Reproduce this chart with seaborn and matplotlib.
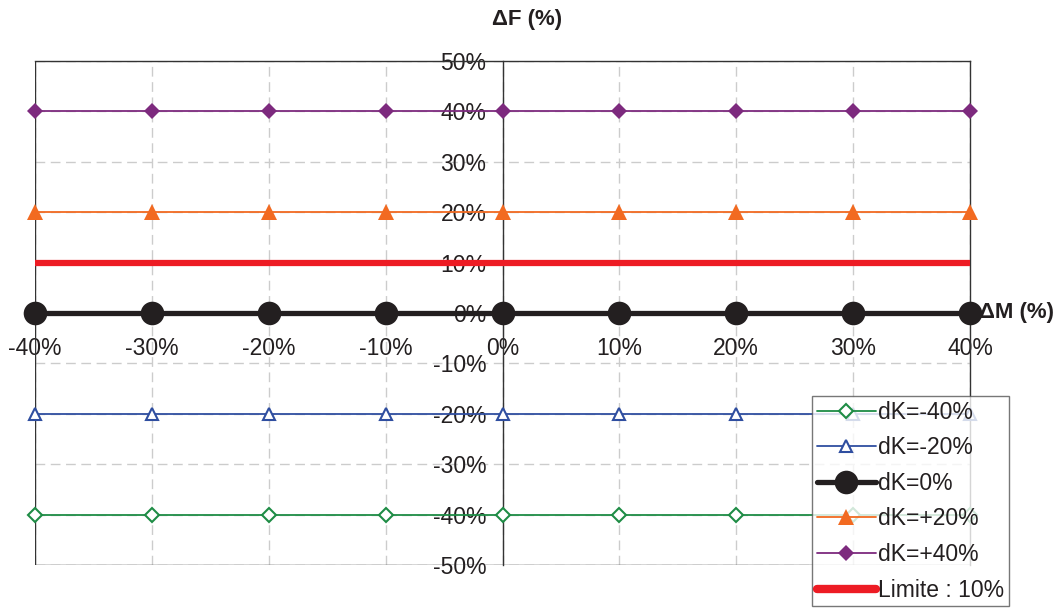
import matplotlib
matplotlib.use("Agg")
import matplotlib.pyplot as plt
import pandas as pd
import seaborn as sns
from matplotlib.lines import Line2D

# data (values in %)
dm = [-40, -30, -20, -10, 0, 10, 20, 30, 40]
df_m40 = [-40, -40, -40, -40, -40, -40, -40, -40, -40]
df_m20 = [-20, -20, -20, -20, -20, -20, -20, -20, -20]
df_0 = [0, 0, 0, 0, 0, 0, 0, 0, 0]
df_p20 = [20, 20, 20, 20, 20, 20, 20, 20, 20]
df_p40 = [40, 40, 40, 40, 40, 40, 40, 40, 40]
limit_x = [-40, 40]
limit_y = [10, 10]
series_labels = ["dK=-40%", "dK=-20%", "dK=0%", "dK=+20%", "dK=+40%"]
limit_label = "Limite : 10%"
x_ticks = [-40, -30, -20, -10, 0, 10, 20, 30, 40]
y_ticks = [-50, -40, -30, -20, -10, 0, 10, 20, 30, 40, 50]

sns.set_theme(style="white")
plt.rcParams["font.family"] = ["Liberation Sans", "DejaVu Sans"]

fig = plt.figure(figsize=(10.6, 6.1), dpi=100)
ax = fig.add_axes([35 / 1060, 45 / 610, 935 / 1060, 504 / 610])

styles = [
    dict(color="#1e8c45", marker="D", ms=7, mfc="white", mew=1.5, lw=1.3),
    dict(color="#2f4ea0", marker="^", ms=9, mfc="white", mew=1.5, lw=1.3),
    dict(color="#231f20", marker="o", ms=17, mfc="#231f20", mew=0, lw=3.8),
    dict(color="#f26a21", marker="^", ms=11, mfc="#f26a21", mew=0, lw=1.3),
    dict(color="#7d2a7e", marker="D", ms=8, mfc="#7d2a7e", mew=0, lw=1.3),
]
all_series = [df_m40, df_m20, df_0, df_p20, df_p40]

# grid
for v in x_ticks:
    ax.axvline(v, color="#cccccc", lw=1, ls=(0, (7, 4)), zorder=0)
for v in y_ticks:
    ax.axhline(v, color="#cccccc", lw=1, ls=(0, (7, 4)), zorder=0)

# limit line
sns.lineplot(x=limit_x, y=limit_y, ax=ax, color="#ed1c24", lw=4.5, zorder=3)

handles = []
order = [0, 1, 3, 4, 2]
for i in order:
    st = styles[i]
    d = pd.DataFrame({"dm": dm, "df": all_series[i]})
    sns.lineplot(data=d, x="dm", y="df", ax=ax, color=st["color"], lw=st["lw"],
                 marker=st["marker"], markersize=st["ms"], markerfacecolor=st["mfc"],
                 markeredgecolor=st["color"], markeredgewidth=st["mew"],
                 zorder=5 if i == 2 else 4, clip_on=False)

for i in range(5):
    st = styles[i]
    handles.append(Line2D([], [], color=st["color"], lw=st["lw"], marker=st["marker"],
                          markersize=st["ms"], markerfacecolor=st["mfc"],
                          markeredgecolor=st["color"], markeredgewidth=st["mew"]))
handles.append(Line2D([], [], color="#ed1c24", lw=6, solid_capstyle="round"))

ax.set_xlim(-40, 40)
ax.set_ylim(-50, 50)
ax.set_xlabel("")
ax.set_ylabel("")

# axes through zero
ax.spines["left"].set_position(("data", 0))
ax.spines["bottom"].set_position(("data", 0))
for s in ax.spines.values():
    s.set_color("#333333")
    s.set_linewidth(1)
ax.axvline(-40, color="#333333", lw=1, zorder=1)
ax.axhline(-50, color="#333333", lw=1, zorder=1)

ax.set_xticks(x_ticks)
ax.set_yticks(y_ticks)
ax.set_xticklabels([f"{v}%" for v in x_ticks], fontsize=16.5, color="#231f20")
ax.set_yticklabels([f"{v}%" for v in y_ticks], fontsize=16.5, color="#231f20")
ax.tick_params(axis="both", which="both", length=3, direction="inout", color="#333333")
ax.tick_params(axis="x", pad=16)
ax.tick_params(axis="y", pad=10)

fig.text(527 / 1060, 1 - 20 / 610, "\u0394F (%)", fontsize=16, fontweight="bold",
         ha="center", va="center", color="#231f20")
fig.text(979 / 1060, 1 - 313 / 610, "\u0394M (%)", fontsize=16, fontweight="bold",
         ha="left", va="center", color="#231f20")

leg = fig.legend(handles, series_labels + [limit_label], loc="upper left",
                 bbox_to_anchor=(812 / 1060, 1 - 396 / 610), fontsize=16.5,
                 frameon=True, fancybox=False, handlelength=2.6, handletextpad=0.1,
                 borderpad=0.2, labelspacing=0.55, borderaxespad=0)
leg.get_frame().set_edgecolor("#555555")
leg.get_frame().set_linewidth(1)
for t in leg.get_texts():
    t.set_color("#231f20")

fig.savefig("out.png", dpi=100)
